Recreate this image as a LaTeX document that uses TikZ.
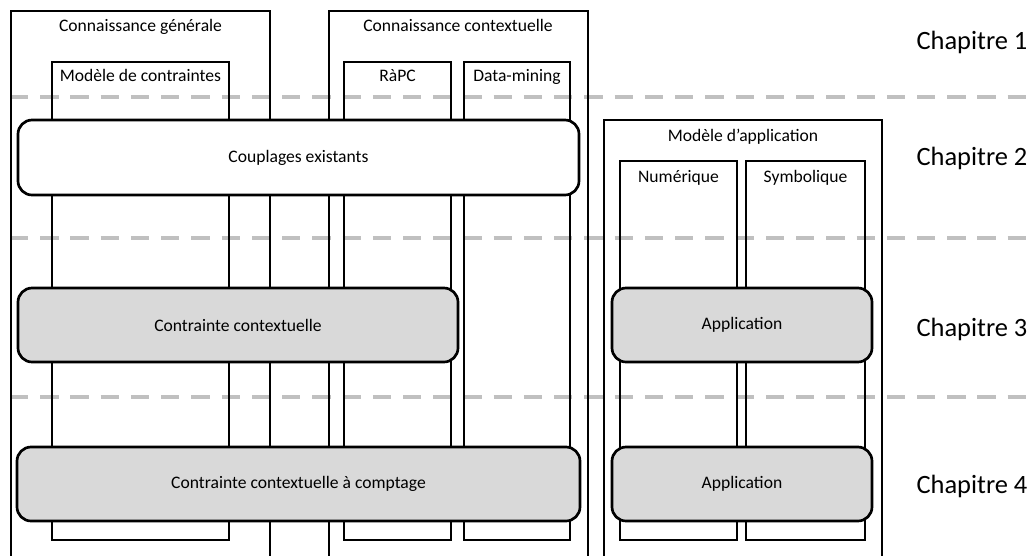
\documentclass[tikz,border=0pt]{standalone}
\usepackage{fontspec}
\setmainfont{Carlito}
\usetikzlibrary{positioning}
\definecolor{boxgray}{HTML}{D9D9D9}
\definecolor{dashgray}{HTML}{C0C0C0}
\newcommand{\pxu}{0.025cm}
\tikzset{frame/.style={
        draw,
        line width=1.9pt,
    },
    heading/.style={
        font=\fontsize{12.5}{15}\selectfont,
        text height=1.6ex,
        text depth=.4ex,
        inner sep=0pt,
    },
    block/.style={
        draw,
        line width=1.9pt,
        rounded corners=10pt,
        inner sep=0pt,
        font=\fontsize{12.5}{15}\selectfont,
    },
    chapter/.style={
        font=\fontsize{18.8}{22}\selectfont,
        inner sep=0pt,
    },
    separator/.style={
        dashgray,
        line width=3pt,
        dash pattern=on 13pt off 8.5pt,
    }
}

\begin{document}
\begin{tikzpicture}[x=\pxu,y=-\pxu]
  \useasboundingbox (0,0) rectangle (1035,555);
  \clip (0,0) rectangle (1035,555);

  % chapter separators
  \draw[separator] (10,97) -- (1040,97);
  \draw[separator] (10,238) -- (1040,238);
  \draw[separator] (10,397) -- (1040,397);

  % knowledge columns
  \draw[frame] (11,570) |- (270,11) -- (270,570);
  \draw[frame] (52,540) rectangle (229,62);
  \draw[frame] (329,570) |- (588,11) -- (588,570);
  \draw[frame] (344,540) rectangle (451,62);
  \draw[frame] (464,540) rectangle (570,62);
  \draw[frame] (604,570) |- (882,120) -- (882,570);
  \draw[frame] (620,540) rectangle (737,161);
  \draw[frame] (746,540) rectangle (865,161);

  \node[heading] (general) at (140.5,27) {Connaissance générale};
  \node[heading] (constraints) at (140.5,77) {Modèle de contraintes};
  \node[heading] (context) at (458,27) {Connaissance contextuelle};
  \node[heading] (rapc) at (397.5,77) {RàPC};
  \node[heading] (mining) at (517,77) {Data-mining};
  \node[heading] (appmodel) at (743,137) {Modèle d’application};
  \node[heading] (numeric) at (678.5,178) {Numérique};
  \node[heading] (symbolic) at (805.5,178) {Symbolique};

  % contributions
  \node[block, fill=white, minimum width=561*\pxu, minimum height=75*\pxu] (coupling) at (298.5,157.5) {Couplages existants};
  \node[block, fill=boxgray, minimum width=440*\pxu, minimum height=74*\pxu] (ctxconstraint) at (238,325) {Contrainte contextuelle};
  \node[block, fill=boxgray, minimum width=260*\pxu, minimum height=74*\pxu] (app3) at (742,325) {Application};
  \node[block, fill=boxgray, minimum width=563*\pxu, minimum height=74*\pxu] (counting) at (298.5,484) {Contrainte contextuelle à comptage};
  \node[block, fill=boxgray, minimum width=260*\pxu, minimum height=74*\pxu] (app4) at (742,484) {Application};

  \node[chapter] (ch1) at (972,42) {Chapitre 1};
  \node[chapter] (ch2) at (972,158) {Chapitre 2};
  \node[chapter] (ch3) at (972,329) {Chapitre 3};
  \node[chapter] (ch4) at (972,486) {Chapitre 4};
\end{tikzpicture}
\end{document}
